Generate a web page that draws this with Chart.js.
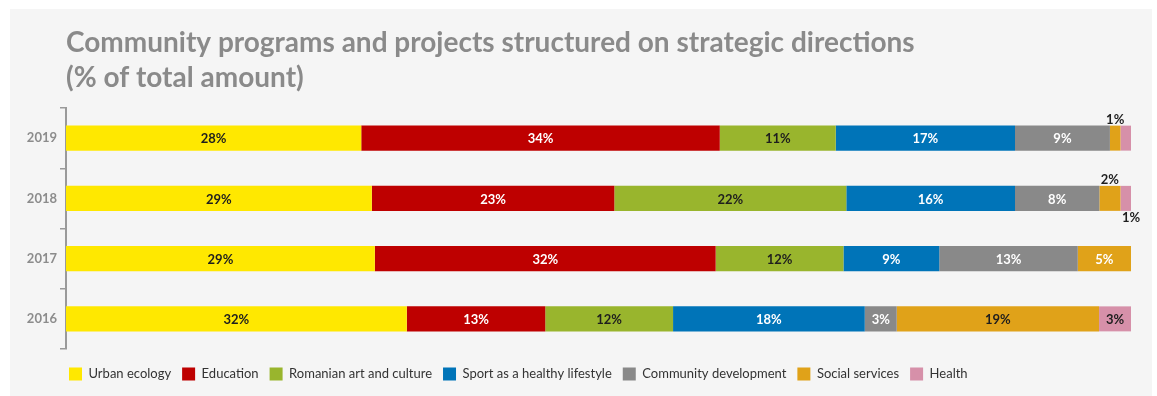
<!DOCTYPE html>
<html>
<head>
<meta charset="utf-8">
<script src="https://cdn.jsdelivr.net/npm/chart.js@4/dist/chart.umd.min.js"></script>
<style>
  html, body { margin: 0; padding: 0; background: #ffffff; }
  #panel { position: absolute; left: 10px; top: 9px; width: 1142px; height: 387px; background: #f5f5f5; }
  #chart { position: absolute; left: 0; top: 0; }
</style>
</head>
<body>
<div id="panel"></div>
<canvas id="chart" width="1157" height="396"></canvas>
<script>
// Years shown top to bottom
const years = ['2019', '2018', '2017', '2016'];

// Share of total amount per strategic direction (%), one value per year
const urbanEcology     = [28, 29, 29, 32];
const education        = [34, 23, 32, 13];
const romanianArt      = [11, 22, 12, 12];
const sportLifestyle   = [17, 16, 9, 18];
const communityDev     = [9, 8, 13, 3];
const socialServices   = [1, 2, 5, 19];
const health           = [1, 1, 0, 3];

const seriesNames = [
  'Urban ecology', 'Education', 'Romanian art and culture',
  'Sport as a healthy lifestyle', 'Community development',
  'Social services', 'Health'
];
const seriesValues = [
  urbanEcology, education, romanianArt, sportLifestyle,
  communityDev, socialServices, health
];
const seriesColors = ['#ffe800', '#be0000', '#99b52d', '#0074b8', '#898989', '#e0a219', '#d690a9'];
const labelColors  = ['#1e1e1e', '#ffffff', '#1e1e1e', '#ffffff', '#ffffff', '#1e1e1e', '#1e1e1e'];

// Rounded shares do not always add up to 100, so each year's bar is scaled to its own total
const yearTotals = years.map((_, i) => seriesValues.reduce((s, arr) => s + arr[i], 0));

// Narrow slices get their label outside the bar: 'above', 'below' or 'none'
const outsideLabels = { '5:0': 'above', '5:1': 'above', '6:0': 'none', '6:1': 'below' };
// Individual label colour overrides
const labelColorOverride = { '5:2': '#ffffff' };

const FONT = 'Lato, "Open Sans", sans-serif';
const LEGEND_GAP = 11;

const barLabels = {
  id: 'barLabels',
  afterDatasetsDraw(chart) {
    const ctx = chart.ctx;
    ctx.save();
    ctx.font = 'bold 13px ' + FONT;
    ctx.textAlign = 'center';
    ctx.textBaseline = 'middle';
    chart.data.datasets.forEach((ds, di) => {
      const meta = chart.getDatasetMeta(di);
      if (meta.hidden) return;
      meta.data.forEach((el, i) => {
        const pct = ds.pct[i];
        if (!pct) return;
        const key = di + ':' + i;
        const place = outsideLabels[key];
        const text = pct + '%';
        const half = el.height / 2;
        if (place === 'none') return;
        if (place === 'above') {
          ctx.fillStyle = '#1e1e1e';
          ctx.fillText(text, (el.x + el.base) / 2, el.y - half - 6);
        } else if (place === 'below') {
          ctx.fillStyle = '#1e1e1e';
          ctx.fillText(text, el.x, el.y + half + 7);
        } else {
          ctx.fillStyle = labelColorOverride[key] || labelColors[di];
          ctx.fillText(text, (el.x + el.base) / 2, el.y + 1);
        }
      });
    });
    ctx.restore();
  }
};

// Line the legend up with the plot's left edge
const legendAlign = {
  id: 'legendAlign',
  afterLayout(chart) {
    const lg = chart.legend;
    if (!lg) return;
    const shift = chart.chartArea.left + 3 - LEGEND_GAP - lg.left;
    lg.left += shift;
    lg.right += shift;
  }
};

const datasets = seriesNames.map((name, di) => ({
  label: name,
  pct: seriesValues[di],
  data: seriesValues[di].map((v, i) => v / yearTotals[i] * 100),
  backgroundColor: seriesColors[di],
  borderWidth: 0,
  barPercentage: 0.415,
  categoryPercentage: 1
}));

new Chart(document.getElementById('chart'), {
  type: 'bar',
  data: { labels: years, datasets },
  plugins: [barLabels, legendAlign],
  options: {
    indexAxis: 'y',
    responsive: false,
    animation: false,
    layout: { padding: { left: 0, right: 26, top: 0, bottom: 5.5 } },
    scales: {
      x: {
        stacked: true,
        min: 0,
        max: 100,
        display: true,
        ticks: { display: false },
        grid: { display: false },
        border: { display: false },
        afterFit(scale) { scale.height = 4.5 + (14 - LEGEND_GAP); }
      },
      y: {
        stacked: true,
        grid: { drawOnChartArea: false, drawTicks: true, tickLength: 6, color: '#9a9a9a', lineWidth: 1.5 },
        border: { display: true, color: '#9a9a9a', width: 2 },
        ticks: {
          padding: 3,
          color: '#8c8c8c',
          font: { family: FONT, size: 13, weight: 'bold' }
        },
        afterFit(scale) { scale.width = 66; }
      }
    },
    plugins: {
      tooltip: { enabled: false },
      title: {
        display: true,
        fullSize: false,
        align: 'start',
        text: ['Community programs and projects structured on strategic directions', '(% of total amount)'],
        color: '#8a8a8a',
        font: { family: FONT, size: 28, weight: 'bold', lineHeight: '35px' },
        padding: { top: 25, bottom: 13 }
      },
      legend: {
        position: 'bottom',
        align: 'start',
        labels: {
          boxWidth: 13,
          boxHeight: 13,
          padding: LEGEND_GAP,
          color: '#333333',
          font: { family: FONT, size: 13 }
        }
      }
    }
  }
});
</script>
</body>
</html>
